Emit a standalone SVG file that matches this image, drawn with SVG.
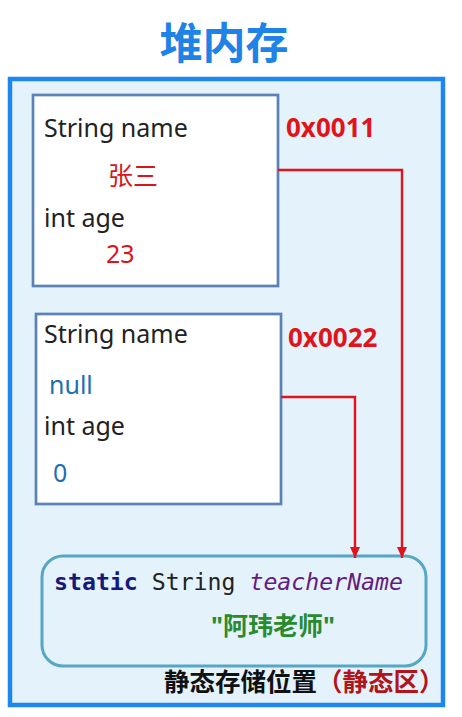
<svg xmlns="http://www.w3.org/2000/svg" width="462" height="717" viewBox="0 0 462 717">
<style>
  .t { font-family: "Noto Sans", "Noto Sans CJK SC", sans-serif; font-size: 25px; fill: #222; }
  .red { fill: #D9161C; }
  .blue { fill: #1F6FB2; }
  .addr { font-family: "Noto Sans", "Noto Sans CJK SC", sans-serif; font-size: 26px; font-weight: bold; fill: #E0141A; }
  .obj { fill: #ffffff; stroke: #5B82B6; stroke-width: 2.7; }
  .conn { fill: none; stroke: #E3131B; stroke-width: 2.4; }
  .mono { font-family: "DejaVu Sans Mono", "Liberation Mono", monospace; font-size: 23px; }
</style>
<defs>
  <marker id="arr" viewBox="0 0 11 10" refX="11" refY="5" markerWidth="11" markerHeight="10" markerUnits="userSpaceOnUse" orient="auto">
    <path d="M0,0 L11,5 L0,10 Z" fill="#E3131B"/>
  </marker>
</defs>
<rect width="462" height="717" fill="#ffffff"/>
<g id="title">
  <text x="224" y="59" text-anchor="middle" style="font-family:'Noto Sans CJK SC',sans-serif;font-size:43px;font-weight:bold;fill:#1E82E6;">堆内存</text>
</g>
<g id="heap">
  <rect x="10" y="79" width="433" height="626" fill="#E4F2FC" stroke="#1E86EE" stroke-width="4.5"/>
</g>
<g id="object1">
  <rect class="obj" x="33" y="95" width="245" height="191"/>
  <text class="t" x="44" y="137">String name</text>
  <text class="t red" x="108" y="185" style="font-family:'Noto Sans CJK SC',sans-serif;">张三</text>
  <text class="t" x="44" y="227">int age</text>
  <text class="t red" x="106" y="263">23</text>
</g>
<g id="addr1">
  <text class="addr" x="286" y="137">0x0011</text>
</g>
<g id="object2">
  <rect class="obj" x="36" y="314" width="245" height="190"/>
  <text class="t" x="44" y="343">String name</text>
  <text class="t blue" x="49" y="394">null</text>
  <text class="t" x="44" y="435">int age</text>
  <text class="t blue" x="53" y="482">0</text>
</g>
<g id="addr2">
  <text class="addr" x="288" y="347">0x0022</text>
</g>
<g id="static-area">
  <rect x="42" y="556" width="384" height="110" rx="21" ry="21" fill="#E4F2FC" stroke="#56A6C4" stroke-width="3"/>
  <text class="mono" x="54" y="590" textLength="349" lengthAdjust="spacingAndGlyphs"><tspan style="font-weight:bold;fill:#14197A;">static</tspan><tspan fill="#222"> String </tspan><tspan style="font-style:italic;fill:#661C7E;">teacherName</tspan></text>
  <text x="211" y="635" style="font-family:'Noto Sans','Noto Sans CJK SC',sans-serif;font-size:25px;font-weight:bold;fill:#2A8A2E;">"阿玮老师"</text>
  <text x="164" y="691" style="font-family:'Noto Sans CJK SC',sans-serif;font-size:25.5px;font-weight:bold;fill:#111;">静态存储位置<tspan fill="#B3141A">（静态区）</tspan></text>
</g>
<g id="connectors">
  <path class="conn" d="M278,170 H402 V558" marker-end="url(#arr)"/>
  <path class="conn" d="M281,397 H355 V558" marker-end="url(#arr)"/>
</g>
</svg>
